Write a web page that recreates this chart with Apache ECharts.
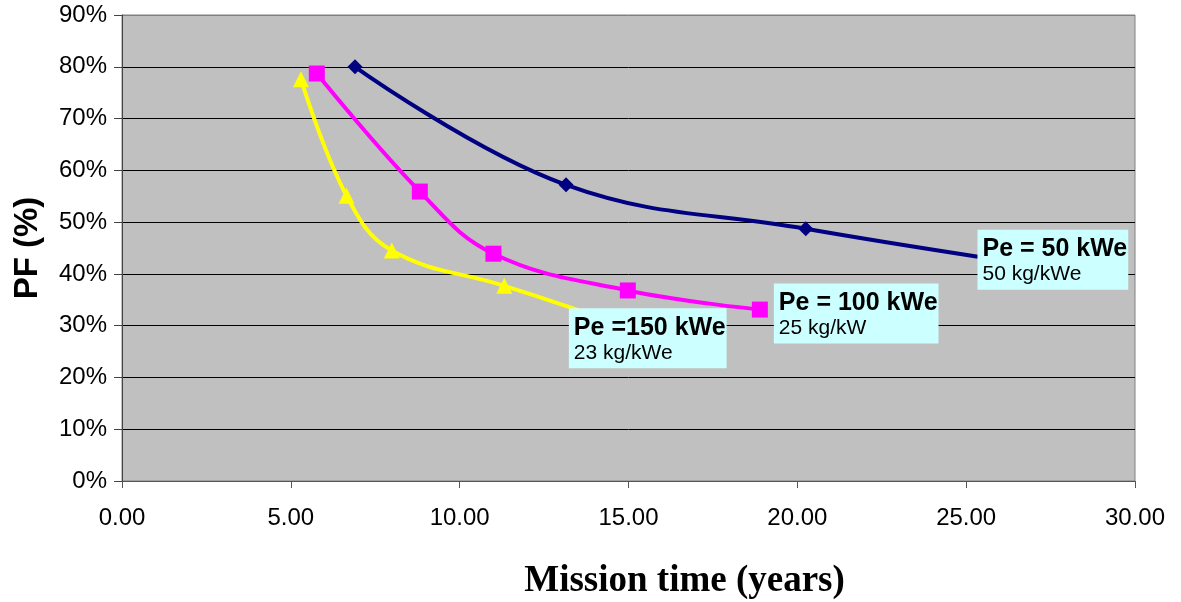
<!DOCTYPE html>
<html>
<head>
<meta charset="utf-8">
<script src="https://cdn.jsdelivr.net/npm/echarts@6/dist/echarts.min.js"></script>
<style>
html, body { margin: 0; padding: 0; background: #fff; }
#pf { width: 1181px; height: 602px; }
</style>
</head>
<body>
<div id="pf"></div>
<script>
// mission time (years) vs PF (%) for three power levels
var x50 = [6.90, 13.15, 20.25, 25.35];
var y50 = [80.0, 57.2, 48.7, 43.3];
var x100 = [5.77, 8.82, 11.00, 14.98, 18.89];
var y100 = [78.7, 55.9, 43.9, 36.8, 33.1];
var x150 = [5.30, 6.65, 7.99, 11.32, 13.90];
var y150 = [77.6, 55.1, 44.5, 37.7, 32.2];

var labelTitles = ['Pe = 50 kWe', 'Pe = 100 kWe', 'Pe =150 kWe'];
var labelSubs = ['50 kg/kWe', '25 kg/kW', '23 kg/kWe'];

var myChart = echarts.init(document.getElementById("pf"));

function pairs(xs, ys) {
    var out = [];
    for (var i = 0; i < xs.length; i++) {
        out.push([xs[i], ys[i]]);
    }
    return out;
}

function boxLabel(idx, offset) {
    return {
        show: true,
        position: 'right',
        distance: 0,
        offset: offset,
        backgroundColor: '#ccffff',
        padding: [5, 1, 5, 5],
        formatter: '{t|' + labelTitles[idx] + '}\n{s|' + labelSubs[idx] + '}',
        rich: {
            t: { fontFamily: 'Liberation Sans', fontWeight: 'bold', fontSize: 25, color: '#000', lineHeight: 29 },
            s: { fontFamily: 'Liberation Sans', fontSize: 21, color: '#000', lineHeight: 21 }
        }
    };
}

// last point carries the text box
function withEndLabel(data, idx, offset, hideSymbol) {
    var last = data[data.length - 1];
    var item = { value: last, label: boxLabel(idx, offset) };
    if (hideSymbol) item.symbolSize = 1;
    data[data.length - 1] = item;
    return data;
}

var gridColors = ['#000', '#000', '#000', '#000', '#000', '#000', '#000', '#000', '#000', '#808080'];

var option = {
    animation: false,
    backgroundColor: '#fff',
    grid: {
        left: 122,
        right: 46,
        top: 15,
        bottom: 121,
        outerBoundsMode: 'none',
        containLabel: false,
        show: true,
        backgroundColor: '#c0c0c0',
        borderColor: '#808080',
        borderWidth: 1
    },
    xAxis: {
        type: 'value',
        min: 0,
        max: 30,
        interval: 5,
        name: 'Mission time (years)',
        nameLocation: 'middle',
        nameGap: 82,
        nameTextStyle: { fontFamily: 'Liberation Serif', fontWeight: 'bold', fontSize: 37, color: '#000', padding: [0, 0, 0, 112] },
        axisLine: { show: true, lineStyle: { color: '#555', width: 1 } },
        axisTick: { show: true, length: 7, lineStyle: { color: '#555' } },
        axisLabel: {
            margin: 25,
            fontFamily: 'Liberation Sans',
            fontSize: 24,
            color: '#000',
            formatter: function (v) { return v.toFixed(2); }
        },
        splitLine: { show: false }
    },
    yAxis: {
        type: 'value',
        min: 0,
        max: 90,
        interval: 10,
        name: 'PF (%)',
        nameLocation: 'middle',
        nameGap: 78,
        nameTextStyle: { fontFamily: 'Liberation Sans', fontWeight: 'bold', fontSize: 33, color: '#000' },
        axisLine: { show: true, lineStyle: { color: '#444', width: 1 } },
        axisTick: { show: true, length: 8, lineStyle: { color: '#444' } },
        axisLabel: {
            margin: 15,
            fontFamily: 'Liberation Sans',
            fontSize: 24,
            color: '#000',
            formatter: '{value}%'
        },
        splitLine: { show: true, lineStyle: { color: gridColors, width: 1 } }
    },
    series: [
        {
            name: 'Pe = 50 kWe',
            type: 'line',
            smooth: 0.4,
            symbol: 'diamond',
            symbolSize: 15,
            lineStyle: { color: '#000080', width: 4 },
            itemStyle: { color: '#000080' },
            data: withEndLabel(pairs(x50, y50), 0, [-1, 3], true)
        },
        {
            name: 'Pe = 100 kWe',
            type: 'line',
            smooth: 0.4,
            symbol: 'rect',
            symbolSize: 16,
            lineStyle: { color: '#ff00ff', width: 4 },
            itemStyle: { color: '#ff00ff' },
            data: withEndLabel(pairs(x100, y100), 1, [6, 4], false)
        },
        {
            name: 'Pe =150 kWe',
            type: 'line',
            smooth: 0.4,
            symbol: 'triangle',
            symbolSize: 16,
            lineStyle: { color: '#ffff00', width: 4 },
            itemStyle: { color: '#ffff00' },
            data: withEndLabel(pairs(x150, y150), 2, [-23, 24], true)
        }
    ]
};
myChart.setOption(option);
window.addEventListener("resize", function(){
    myChart.resize();
});
</script>
</body>
</html>
